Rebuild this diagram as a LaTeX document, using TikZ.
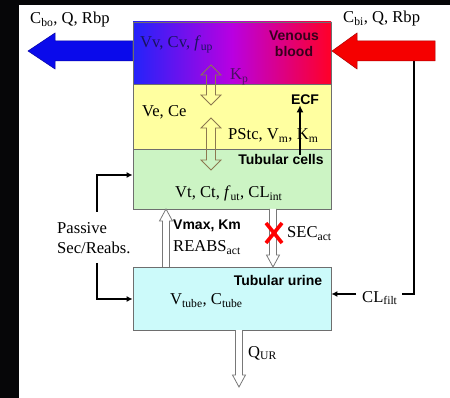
\documentclass[tikz,border=0pt]{standalone}
\usepackage{fontspec}
\setmainfont{Liberation Serif}
\setsansfont{Liberation Sans}
\usetikzlibrary{arrows.meta}
\definecolor{bgblack}{RGB}{6,6,8}
\definecolor{vblue}{RGB}{35,35,250}
\definecolor{vmag}{RGB}{185,0,225}
\definecolor{vred}{RGB}{255,0,40}
\definecolor{ecfyellow}{RGB}{255,255,160}
\definecolor{cellgreen}{RGB}{204,244,196}
\definecolor{urinecyan}{RGB}{204,250,250}
\definecolor{boxgray}{RGB}{110,110,110}
\definecolor{olive}{RGB}{140,120,80}
\definecolor{hgray}{RGB}{120,120,120}
\definecolor{vtext}{RGB}{25,20,95}
\definecolor{kptext}{RGB}{75,15,100}
\definecolor{bloodtext}{RGB}{55,0,28}
\definecolor{bigblue}{RGB}{10,10,235}
\definecolor{bigred}{RGB}{245,0,0}
\newcommand\hdbl[4]{\draw[harrow,draw=#4] (#1,#2) -- (#1+10,#2+10) -- (#1+4.5,#2+10) -- (#1+4.5,#3-10) -- (#1+10,#3-10) -- (#1,#3) -- (#1-10,#3-10) -- (#1-4.5,#3-10) -- (#1-4.5,#2+10) -- (#1-10,#2+10) -- cycle;}
\newcommand\hup[3]{\draw[harrow,draw=hgray,fill=white] (#1-3.5,#3) -- (#1-3.5,#2+12) -- (#1-6.5,#2+12) -- (#1,#2) -- (#1+6.5,#2+12) -- (#1+3.5,#2+12) -- (#1+3.5,#3);}
\newcommand\hdn[3]{\draw[harrow,draw=hgray,fill=white] (#1-3.5,#2) -- (#1-3.5,#3-12) -- (#1-6.5,#3-12) -- (#1,#3) -- (#1+6.5,#3-12) -- (#1+3.5,#3-12) -- (#1+3.5,#2);}
\tikzset{
  ser/.style={font=\fontsize{16.6}{19.5}\selectfont, inner sep=0pt, anchor=base west},
  sbold/.style={font=\sffamily\bfseries\fontsize{14}{16.5}\selectfont, inner sep=0pt},
  box/.style={draw=boxgray, line width=0.8pt, minimum width=198pt, inner sep=0pt},
  harrow/.style={line width=0.8pt, line join=miter},
  conn/.style={line width=1.4pt, -{Latex[length=6pt,width=6pt]}},
  plain/.style={line width=1.4pt},
}
\begin{document}
\begin{tikzpicture}[x=1pt,y=-1pt]
\useasboundingbox (0,0) rectangle (450,398);
\fill[bgblack] (0,0) rectangle (450,398);
\fill[white] (19,5) rectangle (450,398);

% boxes
\node[box, minimum height=62pt, left color=vblue, right color=vred, middle color=vmag] (venous) at (232,53) {};
\node[box, fill=ecfyellow, minimum height=65pt] (ecf) at (232,116.5) {};
\node[box, fill=cellgreen, minimum height=60pt] (cells) at (232,179) {};
\node[box, fill=urinecyan, minimum height=63pt] (urine) at (232,298.5) {};

% big arrows
\coordinate (rl) at (414,58);
\coordinate (cfy) at (0,294);
\node[ser] (clfilt) at (362,302) {CL\textsubscript{filt}};
\draw[plain] (rl) |- ([xshift=4pt]clfilt.east |- cfy);
\draw[conn] ([xshift=-6pt]clfilt.west |- cfy) -- (urine.east |- cfy);
\fill[bigblue, draw=bigblue!70!black, line width=0.5pt] (venous.west |- 0,41) -- (55,41) -- (55,33) -- (28,51) -- (55,69) -- (55,61) -- (venous.west |- 0,61) -- cycle;
\fill[bigred, draw=bigred!70!black, line width=0.5pt] (435,41) -- (357,41) -- (357,33) -- (332,51) -- (357,69) -- (357,61) -- (435,61) -- cycle;

% labels over big arrows
\node[ser] (cbo) at (30,24) {C\textsubscript{bo}, Q, Rbp};
\node[ser] (cbi) at (343,23) {C\textsubscript{bi}, Q, Rbp};

% venous texts
\node[ser, text=vtext] (vv) at (140,48) {Vv, Cv, \textit{f}\textsubscript{up}};
\node[ser, text=kptext] (kp) at (230,80) {K\textsubscript{p}};
\node[sbold, text=bloodtext, align=center] (vb) at (294,44) {Venous\\blood};

% hollow double arrows
\hdbl{211}{65}{105}{olive}
\hdbl{211}{118}{170}{olive}

% ECF texts
\node[ser] (ve) at (142,117) {Ve, Ce};
\node[ser] (ps) at (228,140) {PStc, V\textsubscript{m}, K\textsubscript{m}};
\node[sbold, anchor=base] (ecflab) at (305,105) {ECF};
\node[sbold, anchor=base] (tc) at (281,165) {Tubular cells};
\draw[line width=1.8pt, -{Latex[length=7pt,width=7pt]}] (tc.north -| 300,0) -- (ecflab.south -| 300,0);

% cells text
\node[ser] (vt) at (175,198) {Vt, Ct, \textit{f}\textsubscript{ut}, CL\textsubscript{int}};

% transport arrows
\hup{166}{209}{267}
\hdn{273}{209}{267}
\hdn{239}{330}{387}
\node[sbold, anchor=base west] (vmax) at (173,230) {Vmax, Km};
\node[ser] (reabs) at (173,252) {REABS\textsubscript{act}};
\draw[red, line width=3.6pt] (266,223) -- (282,243) (282,223) -- (266,243);
\node[ser] (sec) at (287,238) {SEC\textsubscript{act}};

% urine texts
\node[sbold, anchor=base] (tu) at (278,286) {Tubular urine};
\node[ser] (vtube) at (170,305) {V\textsubscript{tube}, C\textsubscript{tube}};
\node[ser] (qur) at (248,357) {Q\textsubscript{UR}};

% passive
\node[ser, align=left, anchor=west] (passive) at (57,238) {Passive\\Sec/Reabs.};
\coordinate (pa1) at (97,212);
\coordinate (pa2) at (97,263);
\coordinate (cy) at (0,175);
\coordinate (uy) at (0,299);
\draw[conn] (pa1) |- (cells.west |- cy);
\draw[conn] (pa2) |- (urine.west |- uy);
\end{tikzpicture}
\end{document}
